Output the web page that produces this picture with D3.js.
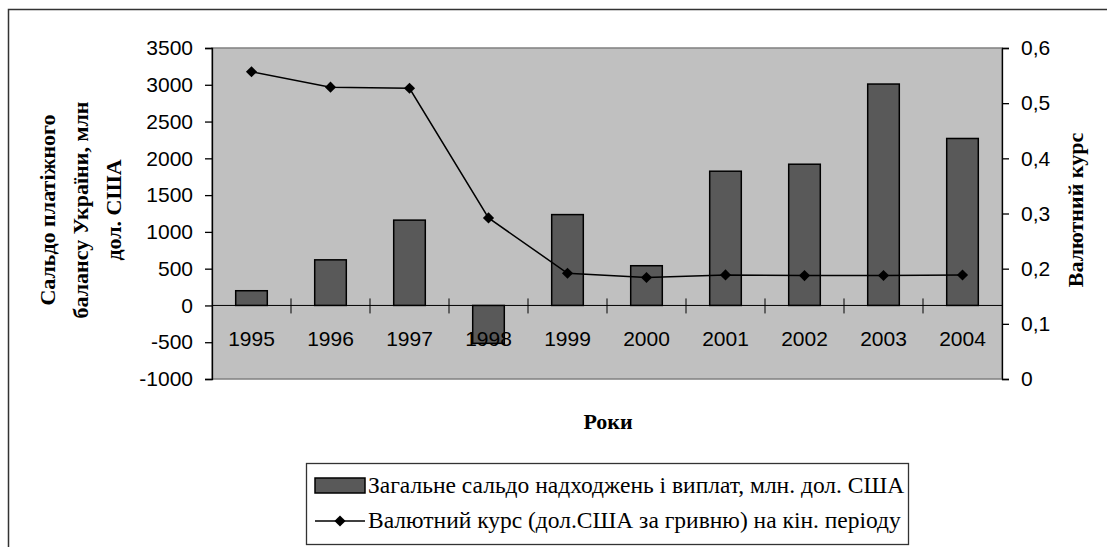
<!DOCTYPE html>
<html>
<head>
<meta charset="utf-8">
<script src="https://cdn.jsdelivr.net/npm/d3@7"></script>
<style>
  body { margin: 0; background: #fff; }
  svg { display: block; }
  .num { font-family: "Liberation Sans", Arial, sans-serif; font-size: 21px; fill: #000; }
  .ttl { font-family: "Liberation Serif", "Times New Roman", serif; font-size: 22px; font-weight: bold; fill: #000; }
  .leg { font-family: "Liberation Serif", "Times New Roman", serif; font-size: 23.5px; fill: #000; }
</style>
</head>
<body>
<div id="chart"></div>
<script>
// Дані
const years   = ['1995','1996','1997','1998','1999','2000','2001','2002','2003','2004'];
const saldo   = [200, 620, 1160, -515, 1235, 540, 1825, 1920, 3010, 2270];
const kurs    = [0.557, 0.529, 0.527, 0.292, 0.1917, 0.184, 0.1887, 0.1875, 0.1876, 0.1885];
const leftTicks  = [-1000, -500, 0, 500, 1000, 1500, 2000, 2500, 3000, 3500];
const rightTicks = [0, 0.1, 0.2, 0.3, 0.4, 0.5, 0.6];
const leftTitle  = ['Сальдо платіжного', 'балансу України, млн', 'дол. США'];
const rightTitle = 'Валютний курс';
const xTitle     = 'Роки';
const legendText = ['Загальне сальдо надходжень і виплат, млн. дол. США',
                    'Валютний курс (дол.США за гривню) на кін. періоду'];

const W = 1107, H = 547;
const plot = { left: 212, right: 1002, top: 48, bottom: 379 };

const svg = d3.select('#chart').append('svg')
  .attr('width', W).attr('height', H);

// рамка діаграми (обрізана праворуч і знизу)
svg.append('rect')
  .attr('x', 8.5).attr('y', 9.5)
  .attr('width', 1200).attr('height', 700)
  .attr('fill', 'none').attr('stroke', '#333').attr('stroke-width', 1.5);

const x = d3.scaleBand().domain(years)
  .range([plot.left, plot.right])
  .paddingInner(0.6).paddingOuter(0.3);
const yL = d3.scaleLinear().domain([-1000, 3500]).range([plot.bottom, plot.top]);
const yR = d3.scaleLinear().domain([0, 0.6]).range([plot.bottom, plot.top]);

// фон області побудови
svg.append('rect')
  .attr('x', plot.left).attr('y', plot.top)
  .attr('width', plot.right - plot.left).attr('height', plot.bottom - plot.top)
  .attr('fill', '#c0c0c0').attr('stroke', '#808080').attr('stroke-width', 1.5);

// стовпці
svg.append('g').selectAll('rect')
  .data(saldo)
  .join('rect')
  .attr('x', (d, i) => x(years[i]))
  .attr('width', x.bandwidth())
  .attr('y', d => yL(Math.max(0, d)))
  .attr('height', d => Math.abs(yL(d) - yL(0)))
  .attr('fill', '#595959').attr('stroke', '#000').attr('stroke-width', 1.5);

// вісь X на нулі
const y0 = yL(0);
svg.append('line')
  .attr('x1', plot.left).attr('x2', plot.right)
  .attr('y1', y0).attr('y2', y0)
  .attr('stroke', '#000').attr('stroke-width', 1);
const step = x.step();
svg.append('g').selectAll('line')
  .data(d3.range(1, years.length))
  .join('line')
  .attr('x1', i => plot.left + i * step).attr('x2', i => plot.left + i * step)
  .attr('y1', y0 - 7).attr('y2', y0 + 8)
  .attr('stroke', '#000').attr('stroke-width', 1);

// лінія курсу
const cx = i => x(years[i]) + x.bandwidth() / 2;
svg.append('path')
  .datum(kurs)
  .attr('d', d3.line().x((d, i) => cx(i)).y(d => yR(d)))
  .attr('fill', 'none').attr('stroke', '#000').attr('stroke-width', 1.5);
svg.append('g').selectAll('path')
  .data(kurs)
  .join('path')
  .attr('d', d3.symbol(d3.symbolSquare, 62))
  .attr('transform', (d, i) => `translate(${cx(i)},${yR(d)}) rotate(45)`)
  .attr('fill', '#000');

// підписи років
svg.append('g').selectAll('text')
  .data(years)
  .join('text')
  .attr('class', 'num')
  .attr('x', d => x(d) + x.bandwidth() / 2)
  .attr('y', y0 + 41)
  .attr('text-anchor', 'middle')
  .text(d => d);

// ліва вісь
const axL = svg.append('g')
  .attr('transform', `translate(${plot.left},0)`)
  .call(d3.axisLeft(yL).tickValues(leftTicks).tickSize(7).tickPadding(12)
    .tickFormat(d => d));
axL.selectAll('text').attr('class', 'num').attr('fill', null);
axL.selectAll('line, path').attr('stroke', '#000').attr('stroke-width', 1.3);

// права вісь
const fmtR = d => String(d).replace('.', ',');
const axR = svg.append('g')
  .attr('transform', `translate(${plot.right},0)`)
  .call(d3.axisRight(yR).tickValues(rightTicks).tickSize(7).tickPadding(12)
    .tickFormat(fmtR));
axR.selectAll('text').attr('class', 'num').attr('fill', null);
axR.selectAll('line, path').attr('stroke', '#000').attr('stroke-width', 1.3);

// назви осей
const lt = svg.append('text').attr('class', 'ttl')
  .attr('transform', 'translate(80,210) rotate(-90)')
  .attr('text-anchor', 'middle');
leftTitle.forEach((s, i) => {
  lt.append('tspan').attr('x', 0).attr('y', (i - 1) * 33 + 8).text(s);
});

svg.append('defs').append('clipPath').attr('id', 'rclip')
  .append('rect').attr('x', 1040).attr('y', 128).attr('width', 67).attr('height', 300);
svg.append('g').attr('clip-path', 'url(#rclip)')
  .append('text').attr('class', 'ttl')
  .attr('transform', 'translate(1083,210) rotate(-90)')
  .attr('text-anchor', 'middle')
  .text(rightTitle);

svg.append('text').attr('class', 'ttl')
  .attr('x', 608).attr('y', 429)
  .attr('text-anchor', 'middle')
  .text(xTitle);

// легенда
const lg = svg.append('g');
lg.append('rect')
  .attr('x', 306.5).attr('y', 463.5).attr('width', 602).attr('height', 81)
  .attr('fill', '#fff').attr('stroke', '#333').attr('stroke-width', 1.3);
lg.append('rect')
  .attr('x', 315).attr('y', 478).attr('width', 50).attr('height', 15)
  .attr('fill', '#595959').attr('stroke', '#000').attr('stroke-width', 1.5);
lg.append('line')
  .attr('x1', 315).attr('x2', 365).attr('y1', 521).attr('y2', 521)
  .attr('stroke', '#000').attr('stroke-width', 1.5);
lg.append('path')
  .attr('d', d3.symbol(d3.symbolSquare, 62))
  .attr('transform', 'translate(340,521) rotate(45)')
  .attr('fill', '#000');
legendText.forEach((s, i) => {
  lg.append('text').attr('class', 'leg')
    .attr('x', 368).attr('y', 493 + i * 35)
    .text(s);
});
</script>
</body>
</html>
